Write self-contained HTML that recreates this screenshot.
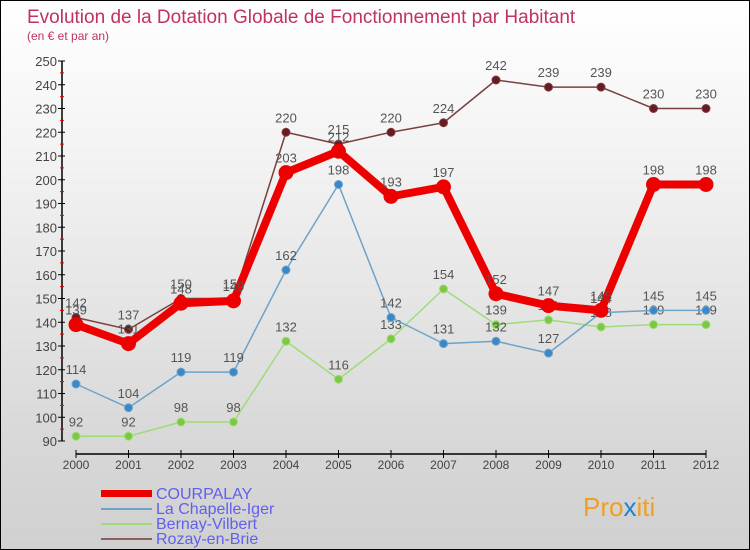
<!DOCTYPE html>
<html><head><meta charset="utf-8"><style>
body{margin:0}
#c{width:750px;height:550px;position:relative;overflow:hidden;background:linear-gradient(#ffffff 0%,#f2f2f2 30%,#d8d8d8 80%,#d0d0d0 100%);font-family:"Liberation Sans",sans-serif;border:1px solid #000;box-sizing:border-box}
</style></head><body>
<div id="c">
<svg width="750" height="550" id="s">
<text x="26" y="22" font-size="19" fill="#c0335c">Evolution de la Dotation Globale de Fonctionnement par Habitant</text>
<text x="26" y="39" font-size="12" fill="#c0335c">(en € et par an)</text>
<g id="axes"></g><g id="series"></g>
<g>
<rect x="100" y="489" width="51" height="7" fill="#ee0000"/>
<text x="155" y="498" font-size="16" fill="#6060ee">COURPALAY</text>
<rect x="100" y="507" width="51" height="2" fill="#6ea3c8"/>
<text x="155" y="513" font-size="16" fill="#6060ee">La Chapelle-Iger</text>
<rect x="100" y="522" width="51" height="2" fill="#9edc7a"/>
<text x="155" y="528" font-size="16" fill="#6060ee">Bernay-Vilbert</text>
<rect x="100" y="537" width="51" height="2" fill="#8a6060"/>
<text x="155" y="543" font-size="16" fill="#6060ee">Rozay-en-Brie</text>
</g>
<text x="582" y="515" font-size="26" fill="#f0a020">Pro<tspan fill="#2080d0">x</tspan>iti</text>
</svg>
</div>
<script>
const years=[2000,2001,2002,2003,2004,2005,2006,2007,2008,2009,2010,2011,2012];
const courpalay=[139,131,148,149,203,212,193,197,152,147,145,198,198];
const chapelle=[114,104,119,119,162,198,142,131,132,127,144,145,145];
const bernay=[92,92,98,98,132,116,133,154,139,141,138,139,139];
const rozay=[142,137,150,150,220,215,220,224,242,239,239,230,230];
const yTicks=[90,100,110,120,130,140,150,160,170,180,190,200,210,220,230,240,250];
const NS="http://www.w3.org/2000/svg";
const X=i=>75+i*52.5, Y=v=>440-(v-90)*2.375;
function mk(t,a,p){const e=document.createElementNS(NS,t);for(const k in a)e.setAttribute(k,a[k]);p.appendChild(e);return e;}
const ax=document.getElementById('axes');
mk('line',{x1:61,y1:60,x2:61,y2:440,stroke:'#000','stroke-width':1.5},ax);
mk('line',{x1:75,y1:453,x2:705,y2:453,stroke:'#000','stroke-width':1.5},ax);
yTicks.forEach(v=>{
 mk('line',{x1:57,y1:Y(v),x2:64,y2:Y(v),stroke:'#000'},ax);
 if(v<250) mk('line',{x1:59,y1:Y(v+5),x2:63,y2:Y(v+5),stroke:'#e00'},ax);
 const t=mk('text',{x:56,y:Y(v)+5,'font-size':13,'text-anchor':'end',fill:'#444'},ax);t.textContent=v;
 
 
});
years.forEach((yr,i)=>{
 mk('line',{x1:X(i),y1:449,x2:X(i),y2:457,stroke:'#000'},ax);
 const t=mk('text',{x:X(i),y:468,'font-size':12,'text-anchor':'middle',fill:'#444'},ax);t.textContent=yr;
 
 
});
const sg=document.getElementById('series');
function draw(vals,color,dot,w,r,name){
 const g=mk('g',{},sg);
 
 
 mk('polyline',{points:vals.map((v,i)=>X(i)+','+Y(v)).join(' '),fill:'none',stroke:color,'stroke-width':w,'stroke-linejoin':'round'},g);
 vals.forEach((v,i)=>{
  const c=mk('circle',{cx:X(i),cy:Y(v),r:r,fill:dot,stroke:color,'stroke-width':1},g);
  
  
  const t=mk('text',{x:X(i),y:Y(v)-10,'font-size':13,'text-anchor':'middle',fill:'#555'},g);t.textContent=v;
  
  
 });
}
draw(bernay,'#9edc7a','#7cc844',1.5,4,'series-bernay');
draw(chapelle,'#6ea3c8','#3a88c8',1.5,4,'series-la-chapelle');
draw(rozay,'#7a4040','#6a1a20',1.5,4,'series-rozay');
draw(courpalay,'#ee0000','#ee0000',8,7,'series-courpalay');
</script>
</body></html>
